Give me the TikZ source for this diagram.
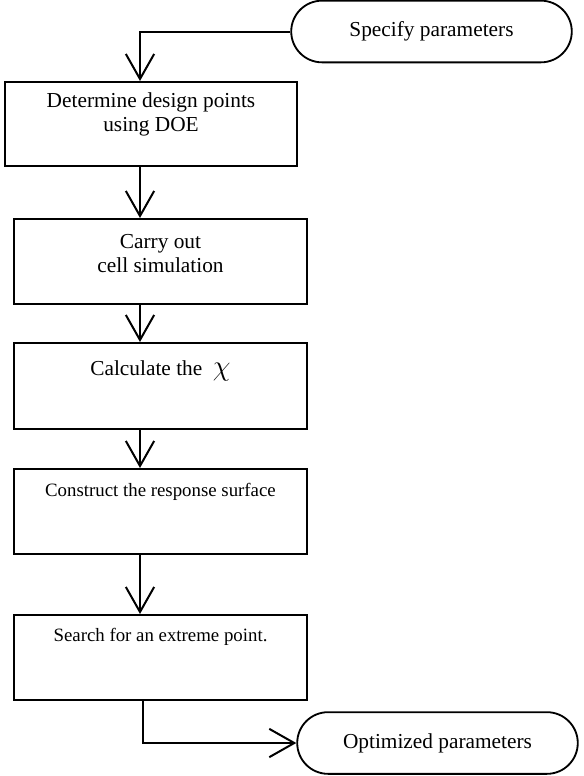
\documentclass[tikz,border=0pt]{standalone}
\usepackage{fontspec}
\setmainfont{Liberation Serif}
\usetikzlibrary{shapes.misc, arrows.meta, positioning}

\begin{document}
\begin{tikzpicture}[x=0.6pt, y=-0.6pt, >={Straight Barb[length=15pt,width=17pt]}]
\tikzset{ stage/.style={draw, line width=1.2pt, minimum width=175.8pt,
                        minimum height=51pt, inner sep=0pt},
          term/.style={draw, line width=1.1pt, rounded rectangle,
                       minimum width=175pt, minimum height=37pt,
                       font=\fontsize{12.8}{14.5}\selectfont},
          txt/.style={anchor=base, align=center, inner sep=0pt,
                      font=\fontsize{12.8}{14.5}\selectfont},
          small/.style={txt, font=\fontsize{11.3}{13}\selectfont},
          flow/.style={->, line width=1.2pt} };

\useasboundingbox (0,0) rectangle (584,776);

\coordinate (axis) at (140,0);
\coordinate (exit) at (143,0);

\node[term] (spec) at (431.5,31.5) {Specify parameters};

\node[stage, minimum width=175.2pt, minimum height=50.4pt] (B1) at (151,124) {};
\node[stage] (B2) at (160.5,261.5) {};
\node[stage, minimum height=51.6pt] (B3) at (160.5,386) {};
\node[stage] (B4) at (160.5,511.5) {};
\node[stage] (B5) at (160.5,657.5) {};

\node[term] (opt) at (437.5,743) {Optimized parameters};

% texts of the boxes (base = last line)
\node[txt] (T1) at ([yshift=-30.2pt]B1.north) {Determine design points\\ using DOE};
\node[txt] (T2) at ([yshift=-32.8pt]B2.north) {Carry out\\ cell simulation};
\node[txt] (T3) at ([yshift=-19.8pt]B3.north) {Calculate the \ {\fontsize{19}{19}\selectfont$\chi$}};
\node[small] (T4) at ([yshift=-16.8pt]B4.north) {Construct the response surface};
\node[small] (T5) at ([yshift=-16.2pt]B5.north) {Search for an extreme point.};

\draw[flow] (spec.west) -| (axis |- B1.north);
\draw[flow] (axis |- B1.south) -- (axis |- B2.north);
\draw[flow] (axis |- B2.south) -- (axis |- B3.north);
\draw[flow] (axis |- B3.south) -- (axis |- B4.north);
\draw[flow] (axis |- B4.south) -- (axis |- B5.north);
\draw[flow] (exit |- B5.south) |- (opt.west);

\end{tikzpicture}
\end{document}
